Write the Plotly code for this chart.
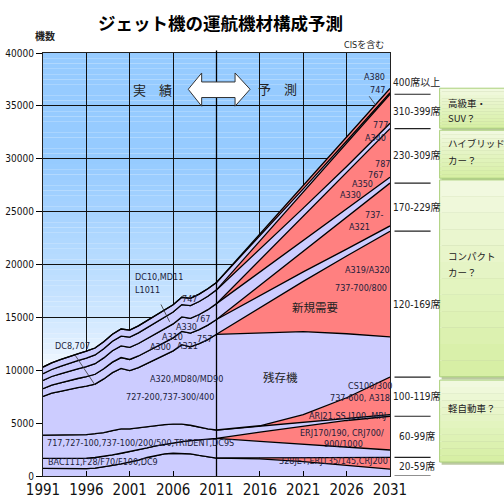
import plotly.graph_objects as go

# ---------------- data ----------------
years_hist = list(range(1991, 2012))
years_fcst = [2016, 2021, 2026, 2031]
years = years_hist + years_fcst
Z = [0] * 21

seat_classes = ["20-59席", "60-99席", "100-119席", "120-169席",
                "170-229席", "230-309席", "310-399席", "400席以上"]

# remaining (existing) fleet per class
rem_20_59 = [730, 720, 710, 700, 700, 700, 750, 850, 1000, 1150, 1300, 1500, 1750, 1950, 2100, 2150, 2150, 2100, 1950, 1800, 1700,
             1620, 1350, 1000, 650]
rem_60_99 = [940, 950, 960, 970, 970, 980, 1000, 1000, 1000, 1000, 1000, 950, 900, 900, 900, 1000, 1100, 1250, 1450, 1680, 1860,
             1560, 1250, 970, 700]
rem_100_119 = [2200, 2200, 2210, 2230, 2230, 2240, 2250, 2250, 2300, 2300, 2150, 2100, 2050, 1950, 1850, 1750, 1650, 1450, 1200, 970, 790,
               560, 400, 250, 150]
rem_120_169 = [3660, 3960, 4130, 4310, 4460, 4570, 4690, 5080, 5470, 5720, 5510, 5700, 5950, 6240, 6590, 6930, 7520, 7420, 7910, 8450, 9050,
               8800, 7850, 6050, 3800]
rem_170_229 = [730, 760, 800, 830, 860, 900, 930, 960, 1000, 1030, 1060, 1100, 1130, 1160, 1200, 1230, 1260, 1300, 1330, 1370, 1400,
               1150, 900, 650, 500]
rem_230_309 = [780, 820, 850, 890, 920, 960, 1000, 1030, 1070, 1100, 1140, 1180, 1210, 1250, 1280, 1320, 1360, 1390, 1430, 1460, 1500,
               1250, 1000, 800, 550]
rem_310_399 = [630, 660, 700, 730, 760, 800, 830, 870, 900, 930, 970, 1000, 1030, 1070, 1100, 1130, 1170, 1200, 1230, 1270, 1300,
               1000, 750, 550, 500]
rem_400 = [630, 630, 640, 640, 650, 650, 650, 660, 660, 670, 670, 670, 680, 680, 680, 690, 690, 690, 700, 700, 700,
           450, 300, 200, 150]

# new demand per class (forecast only)
new_20_59 = Z + [100, 400, 760, 1110]
new_60_99 = Z + [870, 1700, 2520, 3190]
new_100_119 = Z + [40, 700, 1900, 3550]
new_120_169 = Z + [2350, 4750, 7350, 10000]
new_170_229 = Z + [980, 1950, 3030, 4050]
new_230_309 = Z + [1160, 2330, 3430, 4600]
new_310_399 = Z + [790, 1520, 2220, 2750]
new_400 = Z + [210, 330, 380, 400]

rem_all = [rem_20_59, rem_60_99, rem_100_119, rem_120_169, rem_170_229, rem_230_309, rem_310_399, rem_400]
new_all = [new_20_59, new_60_99, new_100_119, new_120_169, new_170_229, new_230_309, new_310_399, new_400]

x_ticks = [1991, 1996, 2001, 2006, 2011, 2016, 2021, 2026, 2031]

# aircraft labels: (text, year, value, anchor)
hist_labels = [
    ("DC10,MD11", 2001.4, 18780, "left"), ("L1011", 2001.4, 17580, "left"),
    ("DC8,707", 1992.1, 12310, "left"), ("747", 2007.9, 16700, "center"),
    ("A300", 2004.5, 12160, "center"), ("A310", 2005.9, 13110, "center"),
    ("A330", 2007.5, 14110, "center"), ("767", 2009.4, 14850, "center"),
    ("A321", 2007.7, 12290, "center"), ("757", 2009.6, 12950, "center"),
    ("A320,MD80/MD90", 2007.5, 9140, "center"), ("727-200,737-300/400", 2005.6, 7440, "center"),
    ("717,727-100,737-100/200/500,TRIDENT,DC9S", 1991.2, 3150, "left"),
    ("BAC111,F28/F70/F100,DC9", 1991.4, 1350, "left"),
]
fcst_labels = [
    ("A380", 2029.2, 37740, "center"), ("747", 2029.6, 36480, "center"),
    ("777", 2029.9, 33170, "center"), ("A340", 2029.3, 31970, "center"),
    ("787", 2030.1, 29550, "center"), ("767", 2029.3, 28440, "center"),
    ("A350", 2027.8, 27660, "center"), ("A330", 2026.5, 26560, "center"),
    ("737-", 2029.1, 24660, "center"), ("A321", 2027.5, 23500, "center"),
    ("A319/A320", 2028.4, 19470, "center"), ("737-700/800", 2027.6, 17740, "center"),
    ("CS100/300", 2028.7, 8500, "center"), ("737-600, A318", 2027.5, 7340, "center"),
    ("ARJ21,SS J100, MRJ", 2026.1, 5700, "center"), ("ERJ170/190, CRJ700/", 2025.5, 4030, "center"),
    ("900/1000", 2025.6, 3000, "center"), ("328JET,ERJ135/145,CRJ200", 2024.5, 1450, "center"),
]

# ---------------- style ----------------
LAV = "#CCCCFF"
RED = "#FF8080"
NARROW = "Liberation Sans Narrow, Arial Narrow, DejaVu Sans Condensed, Noto Sans CJK JP"
JP = "Noto Sans CJK JP, Noto Sans CJK SC, sans-serif"
LBL = "#1c1c3a"

fig = go.Figure()
for rem, new in zip(rem_all, new_all):
    fig.add_trace(go.Scatter(x=years, y=rem, stackgroup="s", mode="lines",
                             line=dict(color="black", width=1.3), fillcolor=LAV,
                             hoverinfo="skip", showlegend=False))
    fig.add_trace(go.Scatter(x=years, y=new, stackgroup="s", mode="lines",
                             line=dict(color="black", width=1.3), fillcolor=RED,
                             hoverinfo="skip", showlegend=False))

PW = 346.2
PH = 423.3
def px2paper(px):
    return (px - 43.3) / PW
def py2paper(py):
    return (476.0 - py) / PH

shapes = []
# sky gradient background
step = 500
for i in range(0, 40000, step):
    v = i + step / 2
    t = max(0.0, min(1.0, (v - 10000) / 20000)) ** 0.6
    r = int(255 - t * (255 - 150))
    g = int(255 - t * (255 - 203))
    shapes.append(dict(type="rect", xref="x", yref="y", x0=1991, x1=2031, y0=i, y1=i + step,
                       fillcolor=f"rgb({r},{g},255)", line=dict(width=0), layer="below"))

# 2011 divider
shapes.append(dict(type="line", xref="x", yref="paper", x0=2011, x1=2011, y0=0, y1=1.006,
                   line=dict(color="black", width=1.3), layer="above"))

# pointer lines
pointers = [((2004.6, 16220), (2005.6, 14580)), ((1994.7, 11430), (1997.0, 8600)),
            ((2028.6, 35910), (2029.3, 35120))]
for (xa, ya), (xb, yb) in pointers:
    shapes.append(dict(type="line", xref="x", yref="y", x0=xa, y0=ya, x1=xb, y1=yb,
                       line=dict(color="#333333", width=0.8), layer="above"))

# double arrow (実績 <-> 予測)
ax = [2007.74, 2009.29, 2013.14, 2014.87]
ay = [34970, 35790, 36570, 37260, 38110]
path = (f"M {ax[0]},{ay[2]} L {ax[1]},{ay[4]} L {ax[1]},{ay[3]} L {ax[2]},{ay[3]} "
        f"L {ax[2]},{ay[4]} L {ax[3]},{ay[2]} L {ax[2]},{ay[0]} L {ax[2]},{ay[1]} "
        f"L {ax[1]},{ay[1]} L {ax[1]},{ay[0]} Z")
shapes.append(dict(type="path", xref="x", yref="y", path=path, fillcolor="white",
                   line=dict(color="#333333", width=1), layer="above"))

# right-side class separators computed from 2031 stack
cum = [0]
for rem, new in zip(rem_all, new_all):
    cum.append(cum[-1] + rem[-1] + new[-1])
for c in cum[:-1]:
    shapes.append(dict(type="line", xref="paper", yref="y", x0=px2paper(394), x1=px2paper(430),
                       y0=c, y1=c, line=dict(color="#222222", width=1.2)))

# car boxes (soft green vertical gradient, shadow, border)
boxes = [(36670, 32890), (32700, 28160), (28000, 9380), (9070, 1320)]
c_top = (243, 250, 226)
c_bot = (214, 239, 163)
for top, bot in boxes:
    shapes.append(dict(type="rect", xref="paper", yref="y", x0=px2paper(441), x1=px2paper(512),
                       y0=bot - 250, y1=top - 250, fillcolor="#bcc9a2", line=dict(width=0)))
    nb = 12
    h = (top - bot) / nb
    for k in range(nb):
        f = (k + 0.5) / nb
        col = tuple(int(c_top[j] + (c_bot[j] - c_top[j]) * f) for j in range(3))
        shapes.append(dict(type="rect", xref="paper", yref="y", x0=px2paper(439), x1=px2paper(510),
                           y0=top - (k + 1) * h, y1=top - k * h,
                           fillcolor=f"rgb{col}", line=dict(width=0)))
    shapes.append(dict(type="rect", xref="paper", yref="y", x0=px2paper(439), x1=px2paper(510),
                       y0=bot, y1=top, fillcolor="rgba(0,0,0,0)", line=dict(color="#abd07c", width=1)))

annotations = []
for txt, xv, yv, anc in hist_labels + fcst_labels:
    annotations.append(dict(x=xv, y=yv, xref="x", yref="y", text=txt, showarrow=False,
                            xanchor=anc, yanchor="middle",
                            font=dict(family=NARROW, size=9, color=LBL)))
annotations += [
    dict(x=2022.3, y=15950, xref="x", yref="y", text="新規需要", showarrow=False,
         font=dict(family=JP, size=11.5, color="#222222")),
    dict(x=2018.4, y=9390, xref="x", yref="y", text="残存機", showarrow=False,
         font=dict(family=JP, size=11.5, color="#222222")),
    dict(x=2003.6, y=36540, xref="x", yref="y", text="実　績", showarrow=False,
         font=dict(family=JP, size=13, color="#222222")),
    dict(x=2018.0, y=36640, xref="x", yref="y", text="予　測", showarrow=False,
         font=dict(family=JP, size=13, color="#222222")),
    dict(x=px2paper(220), y=py2paper(22), xref="paper", yref="paper",
         text="<b>ジェット機の運航機材構成予測</b>",
         showarrow=False, xanchor="center", yanchor="middle",
         font=dict(family=JP, size=17.5, color="black")),
    dict(x=px2paper(45), y=py2paper(35), xref="paper", yref="paper", text="<b>機数</b>", showarrow=False,
         xanchor="center", yanchor="middle", font=dict(family=JP, size=10, color="#222222")),
    dict(x=px2paper(364), y=py2paper(45), xref="paper", yref="paper", text="CISを含む", showarrow=False,
         xanchor="center", yanchor="middle", font=dict(family=NARROW, size=9, color="#222222")),
]
# seat class labels
for i, name in enumerate(seat_classes):
    if i == len(seat_classes) - 1:
        yv = cum[i + 1] + 550
    else:
        yv = (cum[i] + cum[i + 1]) / 2
    annotations.append(dict(x=px2paper(416), y=yv, xref="paper", yref="y", text=name, showarrow=False,
                            xanchor="center", font=dict(family=NARROW, size=10, color="#222222")))
# car box texts (one annotation per line)
car_texts = [("高級車・", 35250), ("SUV？", 33830),
             ("ハイブリッド", 31470), ("カー？", 29860),
             ("コンパクト", 20790), ("カー？", 19280),
             ("軽自動車？", 6430)]
for txt, yv in car_texts:
    annotations.append(dict(x=px2paper(446), y=yv, xref="paper", yref="y", text=txt, showarrow=False,
                            xanchor="left", yanchor="middle", align="left", borderpad=0,
                            font=dict(family=JP, size=9.5, color="#222222")))

fig.update_layout(
    width=504, height=499,
    margin=dict(l=43, r=114, t=53, b=23),
    paper_bgcolor="white", plot_bgcolor="white",
    shapes=shapes, annotations=annotations, showlegend=False,
    xaxis=dict(range=[1991, 2031], tickvals=x_ticks, ticktext=[str(v) for v in x_ticks],
               automargin=False,
               showgrid=True, gridcolor="#111111", gridwidth=1, zeroline=False,
               ticks="inside", ticklen=5, tickcolor="black",
               showline=True, linecolor="#222222", linewidth=1.2, mirror=True,
               tickfont=dict(family=NARROW, size=15, color="#111111"), tickprefix="<b>", ticksuffix="</b>"),
    yaxis=dict(range=[0, 40000], dtick=5000, tickformat="d", automargin=False,
               showgrid=True, gridcolor="#111111", gridwidth=1, zeroline=False,
               ticks="outside", ticklen=6, tickcolor="black",
               showline=True, linecolor="#222222", linewidth=1.2, mirror=True,
               tickfont=dict(family=NARROW, size=10, color="#111111")),
)

fig.write_html("out.html", config={"displayModeBar": False},
               post_script="document.body.style.margin='0px';document.body.style.overflow='hidden';")
